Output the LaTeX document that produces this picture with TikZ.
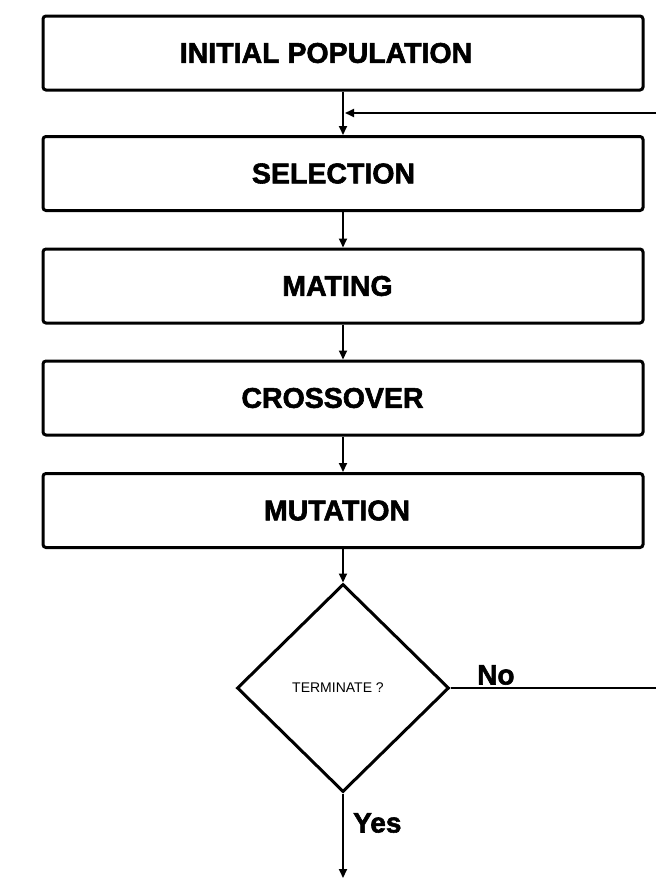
\documentclass[tikz,border=0pt]{standalone}
\usepackage{fontspec}
\setmainfont{Liberation Sans}
\newfontfamily\heavyfont[FakeBold=2]{Liberation Sans Bold}
\usetikzlibrary{arrows.meta,shapes.geometric}
\begin{document}
\begin{tikzpicture}[x=1pt,y=-1pt,
  stepbox/.style={draw=black,line width=3pt,rounded corners=3pt,minimum width=600pt,minimum height=74pt,inner sep=0pt,
    font=\fontsize{28.5}{30}\selectfont\heavyfont},
  decbox/.style={draw=black,line width=3pt,shape=diamond,minimum width=212pt,minimum height=208pt,inner sep=0pt,
    font=\fontsize{14}{15}\selectfont},
  arr/.style={line width=2pt,-{Triangle[length=9pt,width=8pt]}},
  lbl/.style={font=\fontsize{28}{30}\selectfont\heavyfont,inner sep=0pt}]
\useasboundingbox (0,0) rectangle (656,878);
\node[stepbox] (init) at (343,53) {INITIAL POPULATION\hspace*{34pt}};
\node[stepbox] (sel) at (343,173.5) {SELECTION\hspace*{19pt}};
\node[stepbox] (mat) at (343,286) {MATING\hspace*{11pt}};
\node[stepbox] (cro) at (343,398) {CROSSOVER\hspace*{21pt}};
\node[stepbox] (mut) at (343,510.5) {MUTATION\hspace*{12pt}};
\node[decbox] (dec) at (343,688) {TERMINATE ?\hspace*{10pt}};
\coordinate (fbR) at (656,113);
\coordinate (fbJ) at (345,113);
\coordinate (noR) at (656,688);
\coordinate (endB) at (343,878);
\draw[arr] (init.south) -- (sel.north);
\draw[arr] (fbR) -- (fbJ);
\draw[arr] (sel.south) -- (mat.north);
\draw[arr] (mat.south) -- (cro.north);
\draw[arr] (cro.south) -- (mut.north);
\draw[arr] (mut.south) -- (dec.north);
\draw[line width=1.5pt] (dec.east) -- (noR);
\draw[arr] (dec.south) -- (endB);
\node[lbl,anchor=west] (no) at (477,675) {No};
\node[lbl,anchor=west] (yes) at (353,823) {Yes};
\end{tikzpicture}
\end{document}
